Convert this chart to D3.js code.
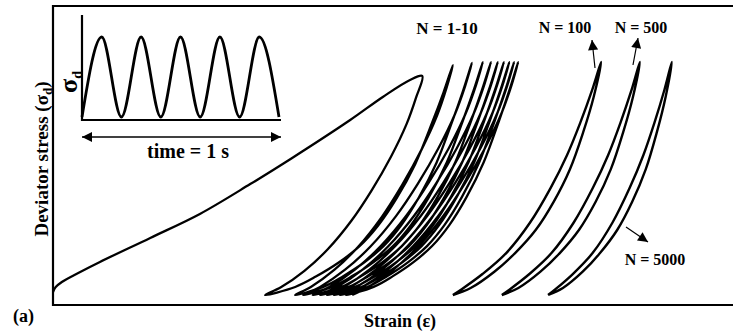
<!DOCTYPE html>
<html>
<head>
<meta charset="utf-8">
<script src="https://cdn.jsdelivr.net/npm/d3@7"></script>
<style>
  body { margin: 0; background: #fff; }
</style>
</head>
<body>
<div id="chart"></div>
<script>
var svgWidth = 733;
var svgHeight = 335;

// first (virgin) loading curve: strain, stress
var firstLoadStrain = [0, 0.4, 1.3, 4.0, 6.9, 14.3, 21.6, 29.0, 35.0, 43.7, 48.5, 52.5];
var firstLoadStress = [1.3, 3.4, 5.6, 9.9, 14.2, 24.5, 34.8, 47.6, 58.5, 75.1, 85.0, 92.3];

// cycles N = 1-10
var cyclePeakStrain = [54.3, 58.8, 61.6, 63.2, 64.4, 65.4, 66.3, 67.1, 67.8, 68.4];
var cyclePeakStress = [94, 98.7, 99.6, 100, 100, 100, 100, 100, 100, 100];
var cycleResidualStrain = [31.2, 35.6, 36.8, 38.2, 39.3, 40.3, 41.3, 42.2, 43.1, 44.0];

// later cycles N = 100, 500, 5000
var laterStartStrain = [58.8, 66.0, 72.8];
var laterPeakStrain = [80.6, 86.3, 91.0];
var laterPeakStress = [100, 100, 100];

// branch shapes, N = 1-10: fraction of strain range, fraction of peak stress
var cycleLoadU = [0, 0.16, 0.27, 0.39, 0.5, 0.6, 0.7, 0.8, 0.89, 0.95, 1];
var cycleLoadV = [0, 0.035, 0.08, 0.14, 0.21, 0.3, 0.42, 0.57, 0.75, 0.88, 1];
var cycleUnloadU = [1, 0.96, 0.9, 0.8, 0.68, 0.55, 0.4, 0.25, 0.1, 0];
var cycleUnloadV = [1, 0.9, 0.78, 0.63, 0.48, 0.34, 0.21, 0.11, 0.035, 0];

// branch shapes, later cycles
var laterLoadU = [0, 0.12, 0.28, 0.42, 0.56, 0.68, 0.79, 0.88, 0.95, 1];
var laterLoadV = [0, 0.03, 0.1, 0.18, 0.28, 0.4, 0.54, 0.7, 0.85, 1];
var laterUnloadU = [1, 0.94, 0.86, 0.77, 0.66, 0.52, 0.36, 0.2, 0.06, 0];
var laterUnloadV = [1, 0.88, 0.74, 0.6, 0.46, 0.31, 0.18, 0.09, 0.025, 0];

// inset: repeated load pulses over 1 s
var pulseTime = [0, 0.1, 0.2, 0.3, 0.4, 0.5, 0.6, 0.7, 0.8, 0.9, 1.0];
var pulseStress = [0, 1, 0, 1, 0, 1, 0, 1, 0, 1, 0];

var svg = d3.select("#chart")
  .append("svg")
  .attr("width", svgWidth)
  .attr("height", svgHeight)
  .attr("font-family", "'Liberation Serif', 'Times New Roman', Times, serif")
  .attr("font-weight", "bold");

svg.append("rect").attr("width", svgWidth).attr("height", svgHeight).attr("fill", "#fff");

var frame = {left: 53, top: 6, bottom: 305};

var xScale = d3.scaleLinear().domain([0, 100]).range([53, 733]);
var yScale = d3.scaleLinear().domain([0, 100]).range([295, 62]);

// arrow marker
var defs = svg.append("defs");
defs.append("marker")
  .attr("id", "head")
  .attr("viewBox", "0 0 10 10")
  .attr("refX", 10).attr("refY", 5)
  .attr("markerUnits", "userSpaceOnUse")
  .attr("markerWidth", 11).attr("markerHeight", 10)
  .attr("orient", "auto-start-reverse")
  .append("path").attr("d", "M0,0L10,5L0,10Z").attr("fill", "#000");

// frame
svg.append("path")
  .attr("d", `M${svgWidth},${frame.top}H${frame.left}V${frame.bottom}H${svgWidth}`)
  .attr("fill", "none").attr("stroke", "#000").attr("stroke-width", 2.2);

function branch(x0, x1, peak, U, V) {
  return U.map((u, i) => [x0 + u * (x1 - x0), V[i] * peak]);
}

var line = d3.line()
  .x(d => xScale(d[0]))
  .y(d => yScale(d[1]))
  .curve(d3.curveCatmullRom.alpha(0.5));

// N = 1-10 as one continuous path
var pts = firstLoadStrain.map((s, i) => [s, firstLoadStress[i]]);
cyclePeakStrain.forEach(function(peakX, i) {
  if (i > 0) {
    var load = branch(cycleResidualStrain[i - 1], peakX, cyclePeakStress[i], cycleLoadU, cycleLoadV);
    pts = pts.concat(load.slice(1));
  } else {
    pts.push([peakX, cyclePeakStress[i]]);
  }
  var unload = branch(cycleResidualStrain[i], peakX, cyclePeakStress[i], cycleUnloadU, cycleUnloadV);
  pts = pts.concat(unload.slice(1));
});

svg.append("path")
  .attr("d", line(pts))
  .attr("fill", "none").attr("stroke", "#000").attr("stroke-width", 2.3)
  .attr("stroke-linejoin", "round");

// N = 100, 500, 5000
laterStartStrain.forEach(function(start, i) {
  var load = branch(start, laterPeakStrain[i], laterPeakStress[i], laterLoadU, laterLoadV);
  var unload = branch(start, laterPeakStrain[i], laterPeakStress[i], laterUnloadU, laterUnloadV);
  svg.append("path")
    .attr("d", line(load.concat(unload.slice(1))))
    .attr("fill", "none").attr("stroke", "#000").attr("stroke-width", 2.4)
    .attr("stroke-linejoin", "round");
});

// labels
svg.append("text").attr("x", 447).attr("y", 34).attr("text-anchor", "middle")
  .attr("font-size", "17px").text("N = 1-10");
svg.append("text").attr("x", 565).attr("y", 33).attr("text-anchor", "middle")
  .attr("font-size", "16px").text("N = 100");
svg.append("text").attr("x", 641).attr("y", 33).attr("text-anchor", "middle")
  .attr("font-size", "16px").text("N = 500");
svg.append("text").attr("x", 655).attr("y", 265).attr("text-anchor", "middle")
  .attr("font-size", "16px").text("N = 5000");

function pointer(x1, y1, x2, y2) {
  svg.append("line")
    .attr("x1", x1).attr("y1", y1).attr("x2", x2).attr("y2", y2)
    .attr("stroke", "#000").attr("stroke-width", 1.2)
    .attr("marker-end", "url(#head)");
}
pointer(595, 68, 592, 40);
pointer(633, 65, 638, 38);
pointer(626, 227, 648, 242);

// inset
var insetX = d3.scaleLinear().domain([0, 1]).range([82, 279]);
var insetY = d3.scaleLinear().domain([0, 1]).range([117, 37]);

svg.append("path")
  .attr("d", "M82,15V120H281")
  .attr("fill", "none").attr("stroke", "#000").attr("stroke-width", 2.2);

svg.append("path")
  .attr("d", d3.line()
    .x((d, i) => insetX(pulseTime[i]))
    .y(d => insetY(d))
    .curve(d3.curveMonotoneX)(pulseStress))
  .attr("fill", "none").attr("stroke", "#000").attr("stroke-width", 2.8);

svg.append("line")
  .attr("x1", 82).attr("y1", 137).attr("x2", 281).attr("y2", 137)
  .attr("stroke", "#000").attr("stroke-width", 1.6)
  .attr("marker-start", "url(#head)").attr("marker-end", "url(#head)");

svg.append("text").attr("x", 188).attr("y", 158).attr("text-anchor", "middle")
  .attr("font-size", "20px").text("time = 1 s");

var sig = svg.append("text")
  .attr("transform", "translate(77,82) rotate(-90)")
  .attr("text-anchor", "middle")
  .attr("font-size", "26px");
sig.append("tspan").text("σ");
sig.append("tspan").attr("font-size", "14px").attr("dy", 5).text("d");

// axis titles
var yTitle = svg.append("text")
  .attr("transform", "translate(48,159) rotate(-90)")
  .attr("text-anchor", "middle")
  .attr("font-size", "19px");
yTitle.append("tspan").text("Deviator stress (σ");
yTitle.append("tspan").attr("font-size", "13px").attr("dy", 4).text("d");
yTitle.append("tspan").attr("dy", -4).text(")");

svg.append("text").attr("x", 400).attr("y", 327).attr("text-anchor", "middle")
  .attr("font-size", "18px").text("Strain (ε)");

svg.append("text").attr("x", 13).attr("y", 322)
  .attr("font-size", "18px").text("(a)");
</script>
</body>
</html>
